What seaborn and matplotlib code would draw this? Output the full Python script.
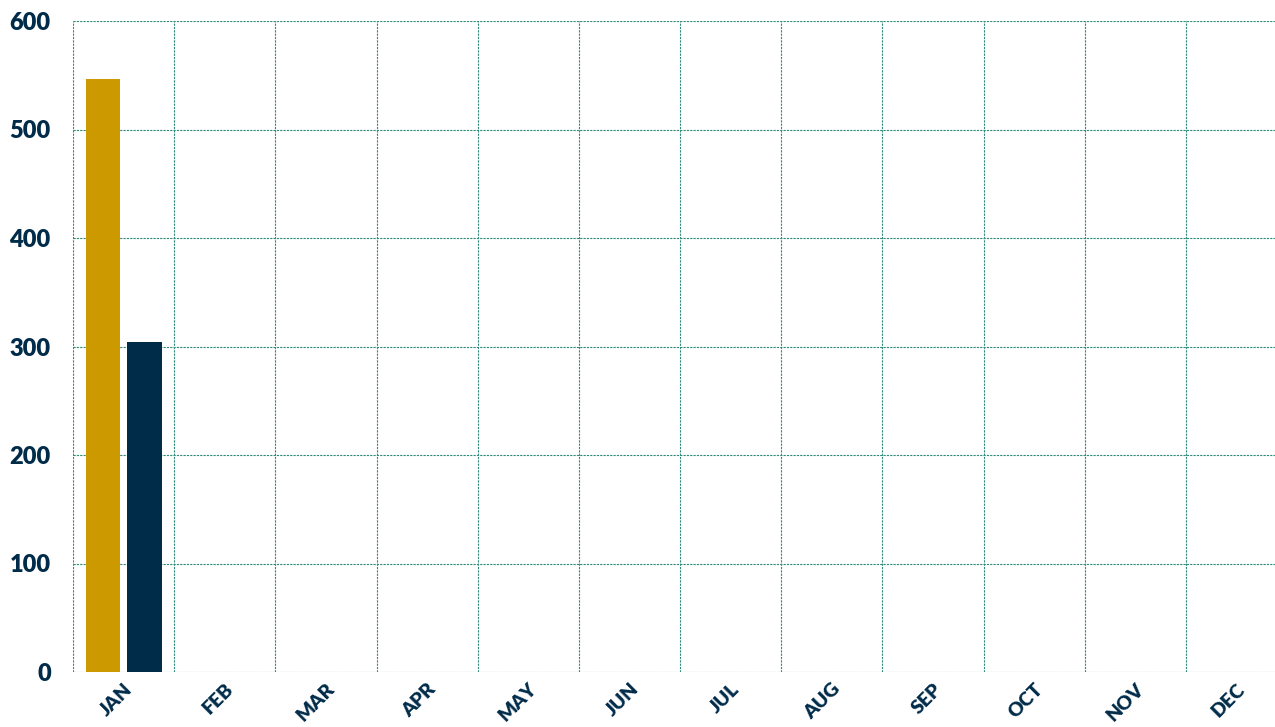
import pandas as pd
import numpy as np
import matplotlib
matplotlib.use('Agg')
import matplotlib.pyplot as plt
import seaborn as sns

months = ['JAN', 'FEB', 'MAR', 'APR', 'MAY', 'JUN', 'JUL', 'AUG', 'SEP', 'OCT', 'NOV', 'DEC']
series_a = [547, 0, 0, 0, 0, 0, 0, 0, 0, 0, 0, 0]
series_b = [304, 0, 0, 0, 0, 0, 0, 0, 0, 0, 0, 0]
series_names = ['Series A', 'Series B']
y_ticks = [0, 100, 200, 300, 400, 500, 600]

df = pd.DataFrame({
    'Month': months * 2,
    'Value': series_a + series_b,
    'Series': [series_names[0]] * len(months) + [series_names[1]] * len(months),
})

sns.set_style('white')
plt.rcParams['font.family'] = ['Lato', 'DejaVu Sans']

navy = '#002B49'
grid_col = '#2E8B7A'

fig = plt.figure(figsize=(12.75, 7.27), dpi=100)
ax = fig.add_axes([73 / 1275, 55 / 727, 1 - 73 / 1275, (672 - 21) / 727])

sns.barplot(data=df, x='Month', y='Value', hue='Series', order=months,
            palette=['#CC9900', navy], saturation=1, width=0.82, gap=0.17,
            linewidth=0, legend=False, ax=ax, zorder=3)

ax.set_yticks(y_ticks)
ax.set_xticks(range(len(months)))
ax.set_xticks(np.arange(-0.5, 12, 1), minor=True)
# set limits after the ticks, otherwise set_xticks widens the view
ax.set_ylim(0, 600)
ax.set_xlim(-0.5, 11.38)

ax.grid(False)
ax.yaxis.grid(True, color=grid_col, linestyle=(0, (2, 1)), linewidth=0.8, zorder=0)
ax.xaxis.grid(True, which='minor', color=grid_col, linestyle=(0, (2, 1)), linewidth=0.8, zorder=0)
ax.set_axisbelow(True)

for s in ax.spines.values():
    s.set_visible(False)

ax.tick_params(axis='both', which='both', length=0)
ax.tick_params(axis='y', pad=16, labelsize=17, labelcolor=navy)
ax.tick_params(axis='x', pad=6, labelsize=14, labelcolor=navy)
for lab in ax.get_yticklabels():
    lab.set_fontweight('heavy')
for lab in ax.get_xticklabels():
    lab.set_fontweight('heavy')
    lab.set_rotation(45)
    lab.set_ha('right')
    lab.set_rotation_mode('anchor')

ax.set_xlabel('')
ax.set_ylabel('')

fig.savefig('out.png', dpi=100)
